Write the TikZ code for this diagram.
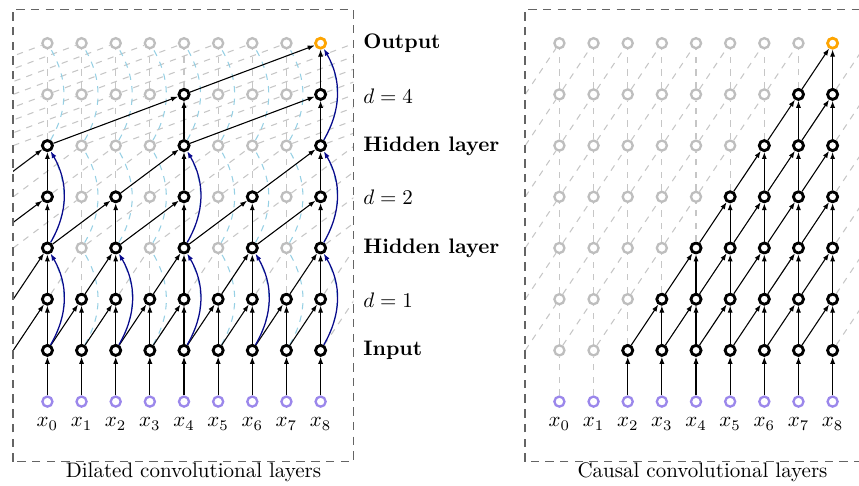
\documentclass[tikz,border=0pt]{standalone}
\usetikzlibrary{arrows.meta}
\definecolor{nodegray}{RGB}{190,190,190}
\definecolor{linkgray}{RGB}{198,198,198}
\definecolor{skipblue}{RGB}{10,10,140}
\definecolor{skiplight}{RGB}{150,208,228}
\definecolor{inpurple}{RGB}{155,135,235}
\definecolor{outorange}{RGB}{255,165,0}
\definecolor{framegray}{RGB}{100,100,100}
\tikzset{
  unit/.style={circle, minimum size=4.8pt, inner sep=0pt, fill=white},
  idle/.style={unit, draw=nodegray, line width=1.1pt},
  live/.style={unit, draw=black, line width=1.35pt},
  feed/.style={unit, draw=inpurple, line width=1.1pt},
  result/.style={unit, draw=outorange, line width=1.3pt},
  ghost/.style={draw=linkgray, dashed, line width=0.5pt},
  ghostskip/.style={draw=skiplight, dashed, line width=0.5pt},
  wire/.style={draw=black, line width=0.5pt, -{Latex[length=3.3pt,width=2.4pt]}},
  skip/.style={draw=skipblue, line width=0.6pt, -{Latex[length=3.3pt,width=2.4pt]}},
  frame/.style={draw=framegray, line width=0.75pt, dash pattern=on 4pt off 3pt},
  lbl/.style={anchor=west, inner sep=0pt},
}
\begin{document}
\begin{tikzpicture}[x=0.4762pt, y=0.4762pt]
\useasboundingbox (0,0) rectangle (859,485);
\def\cx{34.15}
\def\ry{51.2}

% grid points: column index c = i+4 (i = -4..12), rows k = 0..7
\foreach \p/\xo in {L/47.4, R/559.4} {
  \foreach \k in {0,...,7} {
    \foreach \c in {0,...,16} {
      \coordinate (\p-\k-\c) at ({\xo+\cx*(\c-4)},{83.4+\ry*\k});
    }
  }
}

% ---------- nodes ----------
\foreach \p in {L,R} {
  \foreach \c in {4,...,12} {
    \node[feed] (\p-0-\c) at (\p-0-\c) {};
    \foreach \k in {1,...,7} \node[idle] (\p-\k-\c) at (\p-\k-\c) {};
  }
}
% dilated stack: active units
\foreach \c in {4,...,12} {
  \node[live] (L-1-\c) at (L-1-\c) {};
  \node[live] (L-2-\c) at (L-2-\c) {};
}
\foreach \c in {4,6,...,12} {
  \node[live] (L-3-\c) at (L-3-\c) {};
  \node[live] (L-4-\c) at (L-4-\c) {};
}
\foreach \c in {4,8,12} \node[live] (L-5-\c) at (L-5-\c) {};
\foreach \c in {8,12} \node[live] (L-6-\c) at (L-6-\c) {};
\node[result] (L-7-12) at (L-7-12) {};
% causal stack: active units
\foreach \k in {1,...,6} {
  \pgfmathtruncatemacro\first{\k+5}
  \foreach \c in {\first,...,12} \node[live] (R-\k-\c) at (R-\k-\c) {};
}
\node[result] (R-7-12) at (R-7-12) {};

% ---------- dilated convolutional layers ----------
\begin{scope}
\clip (13,23.3) rectangle (353.3,475.7);
% all possible taps
\foreach \k/\d in {1/1,2/1,3/2,4/2,5/4,6/4} {
  \pgfmathtruncatemacro\kk{\k+1}
  \pgfmathtruncatemacro\lo{4-\d}
  \foreach \c in {4,...,12} \draw[ghost] (L-\k-\c) -- (L-\kk-\c);
  \foreach \c in {\lo,...,12} {
    \pgfmathtruncatemacro\t{\c+\d}
    \draw[ghost] (L-\k-\c) -- (L-\kk-\t);
  }
}
\foreach \k in {1,3,5} {
  \pgfmathtruncatemacro\kk{\k+2}
  \foreach \c in {4,...,12} \draw[ghostskip] (L-\k-\c) to[out=60,in=-60] (L-\kk-\c);
}
% used taps
\foreach \c in {4,...,12} {
  \draw[wire] (L-0-\c) -- (L-1-\c);
  \draw[wire] (L-1-\c) -- (L-2-\c);
}
\foreach \c in {3,...,11} {
  \pgfmathtruncatemacro\t{\c+1}
  \draw[wire] (L-1-\c) -- (L-2-\t);
}
\foreach \c in {4,6,...,12} {
  \draw[wire] (L-2-\c) -- (L-3-\c);
  \draw[wire] (L-3-\c) -- (L-4-\c);
}
\foreach \c in {3,5,...,11} {
  \pgfmathtruncatemacro\t{\c+1}
  \draw[wire] (L-2-\c) -- (L-3-\t);
}
\foreach \c in {2,4,...,10} {
  \pgfmathtruncatemacro\t{\c+2}
  \draw[wire] (L-3-\c) -- (L-4-\t);
}
\foreach \c in {4,8,12} \draw[wire] (L-4-\c) -- (L-5-\c);
\foreach \c in {2,6,10} {
  \pgfmathtruncatemacro\t{\c+2}
  \draw[wire] (L-4-\c) -- (L-5-\t);
}
\foreach \c in {8,12} \draw[wire] (L-5-\c) -- (L-6-\c);
\draw[wire] (L-5-4) -- (L-6-8);
\draw[wire] (L-5-8) -- (L-6-12);
\draw[wire] (L-6-12) -- (L-7-12);
\draw[wire] (L-6-8) -- (L-7-12);
% residual links
\foreach \c in {4,6,...,12} \draw[skip] (L-1-\c) to[out=60,in=-60] (L-3-\c);
\foreach \c in {4,8,12} \draw[skip] (L-3-\c) to[out=60,in=-60] (L-5-\c);
\draw[skip] (L-5-12) to[out=60,in=-60] (L-7-12);
\end{scope}

% ---------- causal convolutional layers ----------
\begin{scope}
\clip (525,23.3) rectangle (866,475.7);
\foreach \c in {4,5} \draw[ghost] (R-0-\c) -- (R-1-\c);
\foreach \k in {1,...,6} {
  \pgfmathtruncatemacro\kk{\k+1}
  \foreach \c in {4,...,12} \draw[ghost] (R-\k-\c) -- (R-\kk-\c);
  \foreach \c in {3,...,12} {
    \pgfmathtruncatemacro\t{\c+1}
    \draw[ghost] (R-\k-\c) -- (R-\kk-\t);
  }
}
\foreach \c in {6,...,12} \draw[wire] (R-0-\c) -- (R-1-\c);
\foreach \k in {1,...,6} {
  \pgfmathtruncatemacro\kk{\k+1}
  \pgfmathtruncatemacro\va{\k+6}
  \pgfmathtruncatemacro\da{\k+5}
  \foreach \c in {\va,...,12} \draw[wire] (R-\k-\c) -- (R-\kk-\c);
  \foreach \c in {\da,...,11} {
    \pgfmathtruncatemacro\t{\c+1}
    \draw[wire] (R-\k-\c) -- (R-\kk-\t);
  }
}
\end{scope}

% ---------- frames, labels ----------
\draw[frame] (13,23.3) rectangle (353.3,475.7);
\draw[frame] (525,23.3) rectangle (866,475.7);

\foreach \i in {0,...,8} {
  \node (lx\i) at ({47.4+\cx*\i},61) {$x_{\i}$};
  \node (rx\i) at ({559.4+\cx*\i},61) {$x_{\i}$};
}

\node[lbl] (tOut) at (363,441.4) {\textbf{Output}};
\node[lbl] (tD4)  at (363,389.2) {$d=4$};
\node[lbl] (tH2)  at (363,339.0) {\textbf{Hidden layer}};
\node[lbl] (tD2)  at (363,287.8) {$d=2$};
\node[lbl] (tH1)  at (363,236.6) {\textbf{Hidden layer}};
\node[lbl] (tD1)  at (363,184.4) {$d=1$};
\node[lbl] (tIn)  at (363,134.2) {\textbf{Input}};

\node[anchor=base] (capL) at (193.5,8) {Dilated convolutional layers};
\node[anchor=base] (capR) at (702.5,8) {Causal convolutional layers};
\end{tikzpicture}
\end{document}
